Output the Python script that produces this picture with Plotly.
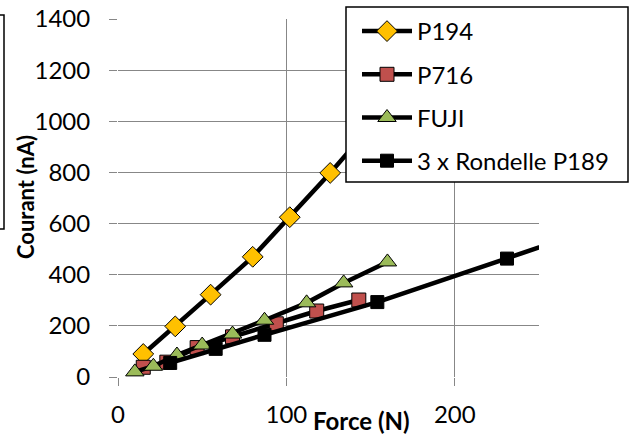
import plotly.graph_objects as go

# Data
p194_x = [15, 34, 55, 80, 102, 126, 150]
p194_y = [90, 198, 322, 470, 625, 798, 980]

p716_x = [15, 29, 47, 68, 94, 118, 143]
p716_y = [38, 58, 115, 157, 208, 258, 301]

fuji_x = [10, 21, 35, 50, 68, 87, 112, 134, 160]
fuji_y = [20, 42, 86, 125, 168, 222, 290, 368, 450]

rond_x = [31, 58, 87, 154, 231, 310]
rond_y = [55, 110, 165, 293, 463, 640]

x_ticks = [0, 100, 200]
y_ticks = [0, 200, 400, 600, 800, 1000, 1200, 1400]

FONT = "Lato"
GRID = "#878787"

fig = go.Figure()

def add(name, xs, ys, symbol, color, size):
    fig.add_trace(go.Scatter(
        x=xs, y=ys, name=name, mode="lines+markers",
        line=dict(color="black", width=4.5),
        marker=dict(symbol=symbol, size=size, color=color,
                    line=dict(color="black", width=1)),
        legendgroup=name,
    ))

add("P194", p194_x, p194_y, "diamond", "#FFC000", 16)
add("P716", p716_x, p716_y, "square", "#C0504D", 14)
add("FUJI", fuji_x, fuji_y, "triangle-up", "#9BBB59", 16)
add("3 x Rondelle P189", rond_x, rond_y, "square", "black", 13)

L, R, T, B = 118, 91, 19, 64
W, H = 630, 441
pw, ph = W - L - R, H - T - B

def px(x):
    return (x - L) / pw

def py(y):
    return (H - B - y) / ph

fig.update_layout(
    width=W, height=H,
    margin=dict(l=L, r=R, t=T, b=B, pad=0, autoexpand=False),
    paper_bgcolor="white", plot_bgcolor="white",
    font=dict(family=FONT, size=24, color="black"),
    showlegend=True,
    legend=dict(
        xref="container", yref="container",
        x=357 / W, y=1 - 9 / H, xanchor="left", yanchor="top",
        bgcolor="rgba(0,0,0,0)", borderwidth=0,
        font=dict(family=FONT, size=24, color="black"),
        tracegroupgap=9, itemwidth=50,
    ),
    xaxis=dict(
        range=[0, 250], tickvals=x_ticks, ticktext=[str(v) for v in x_ticks],
        showgrid=True, gridcolor=GRID, gridwidth=1,
        zeroline=False, showline=False,
        ticks="outside", ticklen=8, tickcolor=GRID,
        ticklabelstandoff=8,
        tickfont=dict(family=FONT, size=24),
    ),
    yaxis=dict(
        range=[0, 1400], tickvals=y_ticks, ticktext=[str(v) for v in y_ticks],
        showgrid=True, gridcolor=GRID, gridwidth=1,
        zeroline=False, showline=False,
        ticks="outside", ticklen=8, tickcolor=GRID,
        ticklabelstandoff=14,
        tickfont=dict(family=FONT, size=24),
    ),
)

# legend frame (drawn above traces, legend text on top)
fig.add_shape(type="rect", xref="paper", yref="paper",
              x0=px(346), x1=px(628), y0=py(182), y1=py(7),
              fillcolor="white", line=dict(color="black", width=1.5),
              layer="above")

# partial box at left edge
fig.add_shape(type="path", xref="paper", yref="paper",
              path=f"M {px(-2)},{py(15)} L {px(4)},{py(15)} L {px(4)},{py(229)} L {px(-2)},{py(229)}",
              line=dict(color="black", width=1.5), layer="above")

fig.add_annotation(text="<b>Force (N)</b>", xref="paper", yref="paper",
                   x=px(361), y=py(420), xanchor="center", yanchor="middle",
                   showarrow=False, font=dict(family=FONT, size=24))
fig.add_annotation(text="<b>Courant (nA)</b>", xref="paper", yref="paper",
                   x=px(25), y=py(197), xanchor="center", yanchor="middle",
                   showarrow=False, textangle=-90,
                   font=dict(family=FONT, size=22))

fig.write_html("out.html",
               config={"displayModeBar": False},
               post_script="document.body.style.margin='0';document.body.style.padding='0';")
